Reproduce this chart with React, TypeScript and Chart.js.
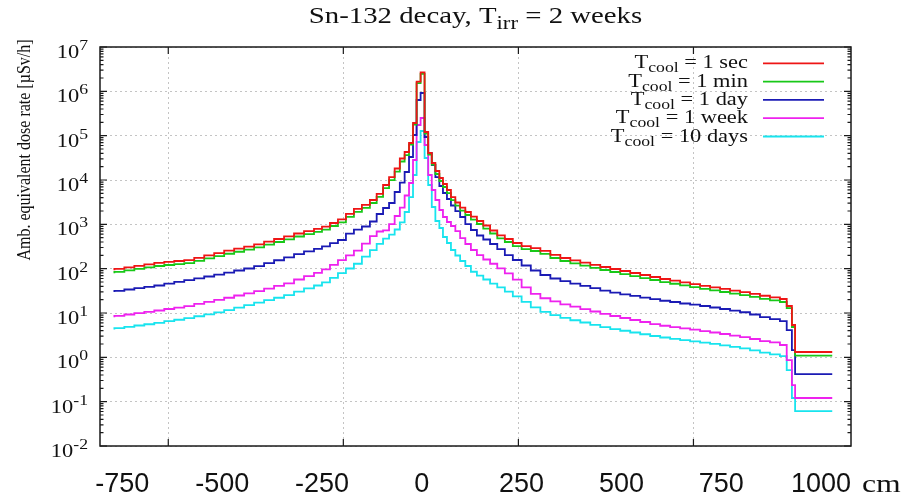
import React, { useEffect, useRef } from "react";
import { Chart, registerables } from "chart.js";

Chart.register(...registerables);

// Bin edges along the beam axis (cm); each dose value holds over [edge_i, edge_i+1]
const binEdgesCm = [
  -770, -745, -720, -695, -670, -645, -620, -595, -570, -545, -520, -495, -470, -445, -420, -395,
  -370, -345, -320, -295, -270, -250, -230, -210, -190, -170, -150, -130, -113, -97, -82, -68, -55,
  -43, -32, -22, -13, -3, 7, 16, 25, 34, 44, 53, 63, 73, 84, 96, 109, 123, 138, 154, 171, 189, 208,
  228, 250, 273, 297, 322, 347, 372, 397, 422, 447, 472, 497, 522, 547, 572, 597, 622, 647, 672, 697,
  722, 747, 772, 797, 822, 847, 872, 897, 914, 927, 935, 948, 1028,
];

// Ambient equivalent dose rate [µSv/h] per bin
const dose1sec = [
  91.8, 99.3, 107, 116, 125, 135, 142, 149, 156, 176, 199, 225, 254, 282, 314, 352, 406, 467, 537,
  621, 703, 789, 889, 1072, 1291, 1726, 2239, 2754, 3540, 4853, 7709, 11670, 18150, 30550, 42760,
  68260, 193200, 1648000, 2687000, 121000, 40640, 24150, 15960, 11090, 8128, 5943, 4130, 3105, 2394,
  1897, 1486, 1189, 940, 726, 565, 467, 379, 324, 292, 251, 204, 174, 154, 137, 122, 109, 98.2, 88.5,
  79.8, 71.9, 64.9, 58.4, 53.5, 49.0, 44.8, 40.8, 37.8, 34.9, 32.1, 29.7, 26.9, 24.5, 22.6, 20.7,
  14.4, 5.36, 1.32,
];
const dose1min = [
  78.5, 84.9, 91.5, 99.2, 107, 115, 121, 127, 133, 150, 170, 192, 217, 241, 268, 301, 347, 399, 459,
  531, 601, 675, 760, 917, 1104, 1476, 1914, 2355, 3027, 4149, 6591, 9978, 15520, 26120, 36560, 63140,
  178700, 1524000, 2485000, 111900, 37590, 22340, 13650, 9482, 6949, 5081, 3531, 2655, 2047, 1622,
  1271, 1017, 804, 621, 483, 399, 324, 277, 250, 215, 174, 149, 132, 117, 104, 93.2, 84.0, 75.7, 68.2,
  61.5, 55.5, 49.9, 45.7, 41.9, 38.3, 34.9, 32.3, 29.8, 27.4, 25.4, 23.0, 20.9, 19.3, 17.7, 12.9, 4.83,
  1.09,
];
const dose1day = [
  29.6, 31.6, 33.9, 36.3, 39.0, 41.7, 45.8, 50.2, 55.2, 60.5, 66.5, 73.1, 81.1, 90.8, 101, 114, 133,
  155, 180, 212, 245, 279, 319, 375, 443, 614, 760, 893, 1159, 1710, 2335, 3027, 5358, 8770, 15140,
  33040, 103500, 637000, 916000, 93300, 40640, 21780, 11670, 7316, 5093, 3724, 2660, 1995, 1462, 1016,
  745, 560, 455, 360, 277, 203, 157, 118, 90.8, 71.9, 60.0, 52.1, 46.2, 40.8, 36.3, 32.1, 28.8, 26.4,
  24.3, 22.2, 20.5, 18.9, 17.7, 16.4, 15.4, 14.4, 13.3, 12.3, 11.3, 10.4, 9.25, 8.11, 7.31, 6.59, 4.13,
  1.46, 0.42,
];
const dose1week = [
  8.07, 8.63, 9.25, 9.89, 10.6, 11.4, 12.3, 13.2, 14.3, 16.0, 17.8, 19.8, 22.1, 24.8, 27.7, 31.2,
  35.6, 40.8, 46.8, 56.9, 68.2, 80.5, 96.2, 122, 156, 199, 255, 366, 542, 689, 733, 1016, 1541, 2394,
  4467, 8551, 28250, 173800, 250000, 61520, 12970, 5943, 3540, 2104, 1462, 1128, 916, 706, 491, 360,
  264, 203, 161, 129, 102, 78.5, 56.6, 37.8, 27.1, 21.5, 18.2, 15.7, 13.9, 12.2, 10.8, 9.57, 8.55,
  7.71, 6.95, 6.27, 5.64, 5.16, 4.8, 4.49, 4.2, 3.92, 3.63, 3.36, 3.1, 2.87, 2.59, 2.33, 2.18, 1.9,
  0.869, 0.237, 0.121,
];
const dose10days = [
  4.27, 4.56, 4.88, 5.22, 5.58, 6.0, 6.53, 7.05, 7.67, 8.45, 9.33, 10.3, 11.6, 13.2, 15.1, 17.2, 19.5,
  22.1, 25.2, 30.2, 35.8, 41.7, 49.0, 62.2, 79.4, 101, 129, 186, 262, 361, 474, 583, 764, 1112, 1897,
  4130, 12970, 71940, 127400, 31330, 7709, 2460, 1189, 826, 518, 379, 264, 198, 149, 115, 85.3, 70.0,
  56.9, 46.2, 37.8, 30.3, 23.8, 17.9, 13.4, 10.6, 8.95, 7.74, 6.87, 6.1, 5.41, 4.8, 4.35, 3.98, 3.63,
  3.32, 3.03, 2.8, 2.62, 2.44, 2.3, 2.15, 2.02, 1.87, 1.73, 1.59, 1.43, 1.28, 1.17, 1.07, 0.516, 0.121,
  0.0615,
];

const seriesValues = [dose1sec, dose1min, dose1day, dose1week, dose10days];
const seriesNames = ["1 sec", "1 min", "1 day", "1 week", "10 days"];
const seriesColors = ["#ee1515", "#18c818", "#1a1ab4", "#ee22ee", "#18e4ee"];

const xTickLabels = [-750, -500, -250, 0, 250, 500, 750, 1000];
const xUnit = "cm";
const yDecadeExponents = [-2, -1, 0, 1, 2, 3, 4, 5, 6, 7];
const titleParts = ["Sn-132 decay, T", "irr", " = 2 weeks"];
const yAxisTitle = "Amb. equivalent dose rate [µSv/h]";
const legendPrefix = ["T", "cool"];

const SERIF = '"Liberation Serif", "Times New Roman", serif';
const SANS = '"Liberation Sans", Arial, sans-serif';
const HS = 1.18;
const GRID_STEP = 500;

type Run = { t: string; size: number; dy?: number };

function drawRuns(
  ctx: CanvasRenderingContext2D,
  runs: Run[],
  x: number,
  y: number,
  align: "left" | "right" | "center",
  family: string,
  hs: number,
  color: string
) {
  let total = 0;
  const widths = runs.map((r) => {
    ctx.font = `${r.size}px ${family}`;
    const w = ctx.measureText(r.t).width * hs;
    total += w;
    return w;
  });
  let cx = align === "right" ? x - total : align === "center" ? x - total / 2 : x;
  runs.forEach((r, i) => {
    ctx.save();
    ctx.font = `${r.size}px ${family}`;
    ctx.fillStyle = color;
    ctx.textAlign = "left";
    ctx.textBaseline = "alphabetic";
    ctx.translate(cx, y + (r.dy || 0));
    ctx.scale(hs, 1);
    ctx.fillText(r.t, 0, 0);
    ctx.restore();
    cx += widths[i];
  });
}

const decorPlugin = {
  id: "gnuplotDecor",
  afterDraw(chart: any) {
    const { ctx, chartArea: a, scales } = chart;
    const ys = scales.y;
    const xs = scales.x;
    const xg = scales.xg;
    ctx.save();

    // frame
    ctx.strokeStyle = "#1a1a1a";
    ctx.lineWidth = 1.5;
    ctx.strokeRect(a.left, a.top, a.right - a.left, a.bottom - a.top);

    // y ticks (major + minor), inward on both sides
    ctx.lineWidth = 1.2;
    ctx.beginPath();
    yDecadeExponents.forEach((e) => {
      const py = ys.getPixelForValue(Math.pow(10, e));
      ctx.moveTo(a.left, py);
      ctx.lineTo(a.left + 7, py);
      ctx.moveTo(a.right, py);
      ctx.lineTo(a.right - 7, py);
      if (e < yDecadeExponents[yDecadeExponents.length - 1]) {
        for (let m = 2; m <= 9; m++) {
          const pm = ys.getPixelForValue(m * Math.pow(10, e));
          ctx.moveTo(a.left, pm);
          ctx.lineTo(a.left + 3.5, pm);
          ctx.moveTo(a.right, pm);
          ctx.lineTo(a.right - 3.5, pm);
        }
      }
    });
    // x ticks at grid positions
    xg.ticks.forEach((t: any) => {
      const px = xg.getPixelForValue(t.value);
      ctx.moveTo(px, a.bottom);
      ctx.lineTo(px, a.bottom - 7);
      ctx.moveTo(px, a.top);
      ctx.lineTo(px, a.top + 7);
    });
    ctx.stroke();

    // y tick labels 10^n
    yDecadeExponents.forEach((e) => {
      const py = ys.getPixelForValue(Math.pow(10, e));
      drawRuns(
        ctx,
        [
          { t: "10", size: 19 },
          { t: String(e), size: 15, dy: -8 },
        ],
        a.left - 12,
        py + 11,
        "right",
        SERIF,
        HS,
        "#111"
      );
    });

    // x tick labels
    ctx.fillStyle = "#111";
    ctx.font = `27px ${SANS}`;
    ctx.textAlign = "center";
    ctx.textBaseline = "alphabetic";
    xs.ticks.forEach((t: any) => {
      const px = xs.getPixelForValue(t.value);
      ctx.fillText(String(t.value), px, a.bottom + 46);
    });
    drawRuns(ctx, [{ t: xUnit, size: 26 }], a.right + 11, a.bottom + 46, "left", SERIF, 1.22, "#111");

    // title
    drawRuns(
      ctx,
      [
        { t: titleParts[0], size: 24 },
        { t: titleParts[1], size: 19, dy: 6 },
        { t: titleParts[2], size: 24 },
      ],
      (a.left + a.right) / 2,
      23,
      "center",
      SERIF,
      1.2,
      "#111"
    );

    // y axis title (rotated)
    ctx.save();
    ctx.translate(30, 150);
    ctx.rotate(-Math.PI / 2);
    ctx.scale(1, HS);
    ctx.font = `16px ${SERIF}`;
    ctx.fillStyle = "#111";
    ctx.textAlign = "center";
    ctx.textBaseline = "alphabetic";
    ctx.fillText(yAxisTitle, 0, 0);
    ctx.restore();

    // legend
    seriesNames.forEach((name, i) => {
      const ly = a.top + 16.3 + i * 18.3;
      drawRuns(
        ctx,
        [
          { t: legendPrefix[0], size: 19 },
          { t: legendPrefix[1], size: 15, dy: 4 },
          { t: " = " + name, size: 19 },
        ],
        a.right - 103,
        ly + 5,
        "right",
        SERIF,
        HS,
        "#111"
      );
      ctx.strokeStyle = seriesColors[i];
      ctx.lineWidth = 1.8;
      ctx.beginPath();
      ctx.moveTo(a.right - 88, ly);
      ctx.lineTo(a.right - 27, ly);
      ctx.stroke();
    });

    ctx.restore();
  },
};

const zeroWidth = (s: any) => {
  s.width = 0;
};
const zeroHeight = (s: any) => {
  s.height = 0;
};

export default function App() {
  const canvasRef = useRef<HTMLCanvasElement | null>(null);

  useEffect(() => {
    document.body.style.margin = "0";
    const canvas = canvasRef.current;
    if (!canvas) return;

    const datasets = seriesValues.map((vals, i) => ({
      label: `Tcool = ${seriesNames[i]}`,
      data: binEdgesCm.map((x, j) => ({ x, y: vals[Math.min(j, vals.length - 1)] })),
      borderColor: seriesColors[i],
      backgroundColor: seriesColors[i],
      borderWidth: 1.8,
      pointRadius: 0,
      pointHoverRadius: 0,
      stepped: "after" as const,
      fill: false,
      xAxisID: "x",
      yAxisID: "y",
    }));

    const chart = new Chart(canvas, {
      type: "line",
      data: { datasets },
      options: {
        animation: false,
        responsive: false,
        devicePixelRatio: 1,
        layout: { padding: { left: 100, right: 59, top: 47, bottom: 53 } },
        plugins: { legend: { display: false }, tooltip: { enabled: false }, title: { display: false } },
        events: [],
        scales: {
          x: {
            type: "linear",
            position: "bottom",
            min: -806,
            max: 1075,
            afterBuildTicks: (s: any) => {
              s.ticks = xTickLabels.map((v) => ({ value: v }));
            },
            afterFit: zeroHeight,
            ticks: { display: false },
            grid: { display: false, drawTicks: false },
            border: { display: false },
          },
          xg: {
            type: "linear",
            position: "bottom",
            min: -195,
            max: 1950,
            afterBuildTicks: (s: any) => {
              const ticks: any[] = [];
              for (let v = Math.ceil(s.min / GRID_STEP) * GRID_STEP; v < s.max; v += GRID_STEP) {
                if (v > s.min) ticks.push({ value: v });
              }
              s.ticks = ticks;
            },
            afterFit: zeroHeight,
            ticks: { display: false },
            grid: { display: true, drawTicks: false, color: "#c4c4c4", lineWidth: 1 },
            border: { display: false, dash: [2, 3] },
          },
          y: {
            type: "logarithmic",
            position: "left",
            min: 0.01,
            max: 1e7,
            afterBuildTicks: (s: any) => {
              s.ticks = yDecadeExponents.map((e) => ({ value: Math.pow(10, e), major: true }));
            },
            afterFit: zeroWidth,
            ticks: { display: false },
            grid: { display: true, drawTicks: false, color: "#c4c4c4", lineWidth: 1 },
            border: { display: false, dash: [2, 3] },
          },
        },
      },
      plugins: [decorPlugin],
    } as any);

    return () => chart.destroy();
  }, []);

  return (
    <div style={{ width: 910, height: 499, background: "#fff" }}>
      <canvas ref={canvasRef} width={910} height={499} style={{ display: "block" }} />
    </div>
  );
}
